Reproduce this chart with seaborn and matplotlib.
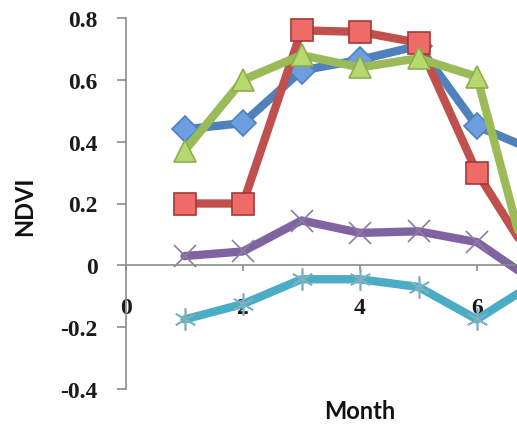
import matplotlib
matplotlib.use("Agg")
import matplotlib.pyplot as plt
import seaborn as sns

months = [1, 2, 3, 4, 5, 6, 7]
series_blue = [0.44, 0.46, 0.63, 0.665, 0.71, 0.45, 0.37]
series_red = [0.20, 0.20, 0.76, 0.755, 0.72, 0.30, 0.0]
series_green = [0.37, 0.60, 0.68, 0.64, 0.67, 0.61, -0.10]
series_purple = [0.03, 0.045, 0.145, 0.105, 0.11, 0.075, -0.055]
series_cyan = [-0.175, -0.125, -0.045, -0.045, -0.07, -0.175, -0.055]
xticks = [0, 2, 4, 6]
yticks = [-0.4, -0.2, 0, 0.2, 0.4, 0.6, 0.8]
ytick_labels = ["-0.4", "-0.2", "0", "0.2", "0.4", "0.6", "0.8"]

sns.set_theme(style="white")
fig = plt.figure(figsize=(5.17, 4.27), dpi=100)
ax = fig.add_axes([126/517, 1-390/427, 1-126/517, (390-19)/427])

styles = [
    (series_blue, "#4F81BD", "D", "#6C9EE0", "#4F81BD", 13),
    (series_red, "#C0504D", "s", "#EE6B68", "#A33A37", 16),
    (series_green, "#9BBB59", "^", "#B5D96E", "#8DAE4A", 16),
    (series_purple, "#8064A2", "x", "none", "#8C7BA6", 16),
    (series_cyan, "#4BACC6", (6, 2, 0), "none", "#7FB0C0", 16),
]
for vals, col, mk, mfc, mec, ms in styles:
    sns.lineplot(x=months, y=vals, ax=ax, color=col, linewidth=6,
                 marker=mk, markersize=ms, markerfacecolor=mfc,
                 markeredgecolor=mec, markeredgewidth=1.2, clip_on=True)

for s in ["top", "right"]:
    ax.spines[s].set_visible(False)
ax.spines["bottom"].set_position(("data", 0))
for s in ["left", "bottom"]:
    ax.spines[s].set_color("#8C8C8C")
    ax.spines[s].set_linewidth(1.2)

tick_font = dict(fontfamily="Liberation Serif", fontsize=17, fontweight="bold")
ax.set_xlim(0, (517-126)/58.5)
ax.set_ylim(-0.4, 0.8)
ax.set_xticks(xticks)
ax.set_xticklabels([str(t) for t in xticks], **tick_font)
ax.set_yticks(yticks)
ax.set_yticklabels(ytick_labels, **tick_font)

ax.tick_params(axis="y", direction="out", length=6.5, width=1.2, color="#8C8C8C",
               pad=14, left=True, labelcolor="#1a1a1a")
ax.tick_params(axis="x", direction="out", length=4, width=1.2, color="#8C8C8C",
               pad=19, bottom=True, labelcolor="#1a1a1a")

ax.set_xlabel("Month", fontfamily="Lato", fontweight="bold", fontsize=17, color="#111111")
ax.set_ylabel("NDVI", fontfamily="Lato", fontweight="bold", fontsize=17, color="#111111")
ax.xaxis.label.set_va("center")
ax.yaxis.label.set_va("center")
ax.xaxis.set_label_coords((360-126)/(517-126), (390-412)/(390-19), transform=ax.transAxes)
ax.yaxis.set_label_coords((25-126)/(517-126), (390-206)/(390-19), transform=ax.transAxes)

fig.savefig("out.png", dpi=100)
